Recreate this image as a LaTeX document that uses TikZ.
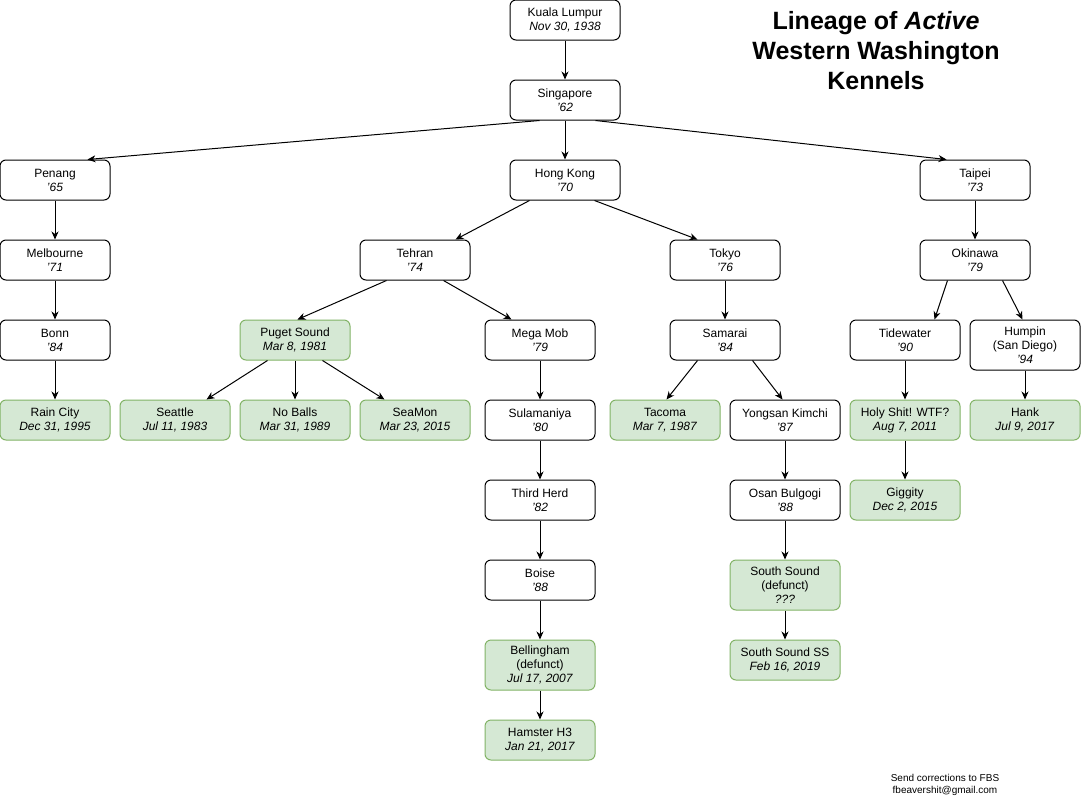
\documentclass[tikz,border=0pt]{standalone}
\usepackage{fontspec}
\setmainfont{Liberation Sans}
\usetikzlibrary{arrows.meta}
\definecolor{gfill}{HTML}{D5E8D4}
\definecolor{gdraw}{HTML}{82B366}
\begin{document}
\begin{tikzpicture}[x=1pt,y=-1pt,
  box/.style={draw=black, line width=1pt, rounded corners=6pt, fill=white,
    minimum width=110pt, minimum height=40pt, inner sep=0pt, align=center,
    font=\fontsize{12}{14}\selectfont},
  tall/.style={minimum height=50pt},
  gbox/.style={box, draw=gdraw, fill=gfill},
  arr/.style={line width=1pt, -{Stealth[length=8pt,width=7pt,inset=2.5pt]}}
]
\useasboundingbox (0,0) rectangle (1081,801);
\fill[white] (0,0) rectangle (1081,801);

% nodes
\node[box] (kl) at (565,20) {Kuala Lumpur\\\textit{Nov 30, 1938}};
\node[box] (sing) at (565,100) {Singapore\\\textit{'62}};
\node[box] (penang) at (55,180) {Penang\\\textit{'65}};
\node[box] (hk) at (565,180) {Hong Kong\\\textit{'70}};
\node[box] (taipei) at (975,180) {Taipei\\\textit{'73}};
\node[box] (melb) at (55,260) {Melbourne\\\textit{'71}};
\node[box] (tehran) at (415,260) {Tehran\\\textit{'74}};
\node[box] (tokyo) at (725,260) {Tokyo\\\textit{'76}};
\node[box] (okinawa) at (975,260) {Okinawa\\\textit{'79}};
\node[box] (bonn) at (55,340) {Bonn\\\textit{'84}};
\node[gbox] (puget) at (295,340) {Puget Sound\\\textit{Mar 8, 1981}};
\node[box] (megamob) at (540,340) {Mega Mob\\\textit{'79}};
\node[box] (samarai) at (725,340) {Samarai\\\textit{'84}};
\node[box] (tide) at (905,340) {Tidewater\\\textit{'90}};
\node[box, tall] (humpin) at (1025,345) {Humpin\\(San Diego)\\\textit{'94}};
\node[gbox] (rain) at (55,420) {Rain City\\\textit{Dec 31, 1995}};
\node[gbox] (seattle) at (175,420) {Seattle\\\textit{Jul 11, 1983}};
\node[gbox] (noballs) at (295,420) {No Balls\\\textit{Mar 31, 1989}};
\node[gbox] (seamon) at (415,420) {SeaMon\\\textit{Mar 23, 2015}};
\node[box] (sulam) at (540,420) {Sulamaniya\\\textit{'80}};
\node[gbox] (tacoma) at (665,420) {Tacoma\\\textit{Mar 7, 1987}};
\node[box] (yongsan) at (785,420) {Yongsan Kimchi\\\textit{'87}};
\node[gbox] (holy) at (905,420) {Holy Shit! WTF?\\\textit{Aug 7, 2011}};
\node[gbox] (hank) at (1025,420) {Hank\\\textit{Jul 9, 2017}};
\node[box] (third) at (540,500) {Third Herd\\\textit{'82}};
\node[box] (osan) at (785,500) {Osan Bulgogi\\\textit{'88}};
\node[gbox] (giggity) at (905,500) {Giggity\\\textit{Dec 2, 2015}};
\node[box] (boise) at (540,580) {Boise\\\textit{'88}};
\node[gbox, tall] (ssdef) at (785,585) {South Sound\\(defunct)\\\textit{???}};
\node[gbox, tall] (bell) at (540,665) {Bellingham\\(defunct)\\\textit{Jul 17, 2007}};
\node[gbox] (ssss) at (785,660) {South Sound SS\\\textit{Feb 16, 2019}};
\node[gbox] (hamster) at (540,740) {Hamster H3\\\textit{Jan 21, 2017}};

% title and footer
\node[align=center, font=\fontsize{25}{30}\selectfont\bfseries] (title) at (876,51)
  {Lineage of \textit{Active}\\Western Washington\\Kennels};
\node[align=center, font=\fontsize{10}{12}\selectfont] (footer) at (945,785)
  {Send corrections to FBS\\fbeavershit@gmail.com};

% straight edges
\foreach \a/\b in {kl/sing, sing/hk, penang/melb, melb/bonn, bonn/rain,
  taipei/okinawa, puget/noballs, megamob/sulam, sulam/third, third/boise,
  boise/bell, bell/hamster, tokyo/samarai, yongsan/osan, osan/ssdef,
  ssdef/ssss, tide/holy, holy/giggity, humpin/hank}
  \draw[arr] (\a) -- (\b);

% slanted edges
\draw[arr] ([xshift=30pt]sing.south west) -- ([xshift=88pt]penang.north west);
\draw[arr] ([xshift=86pt]sing.south west) -- ([xshift=27pt]taipei.north west);
\draw[arr] ([xshift=20pt]hk.south west) -- ([xshift=96pt]tehran.north west);
\draw[arr] ([xshift=85pt]hk.south west) -- ([xshift=28pt]tokyo.north west);
\draw[arr] ([xshift=27pt]tehran.south west) -- ([xshift=58pt]puget.north west);
\draw[arr] ([xshift=84pt]tehran.south west) -- ([xshift=27pt]megamob.north west);
\draw[arr] ([xshift=28pt]puget.south west) -- ([xshift=87pt]seattle.north west);
\draw[arr] ([xshift=83pt]puget.south west) -- ([xshift=25pt]seamon.north west);
\draw[arr] ([xshift=28pt]samarai.south west) -- ([xshift=57pt]tacoma.north west);
\draw[arr] ([xshift=83pt]samarai.south west) -- ([xshift=53pt]yongsan.north west);
\draw[arr] ([xshift=28pt]okinawa.south west) -- ([xshift=85pt]tide.north west);
\draw[arr] ([xshift=83pt]okinawa.south west) -- ([xshift=53pt]humpin.north west);
\end{tikzpicture}
\end{document}
